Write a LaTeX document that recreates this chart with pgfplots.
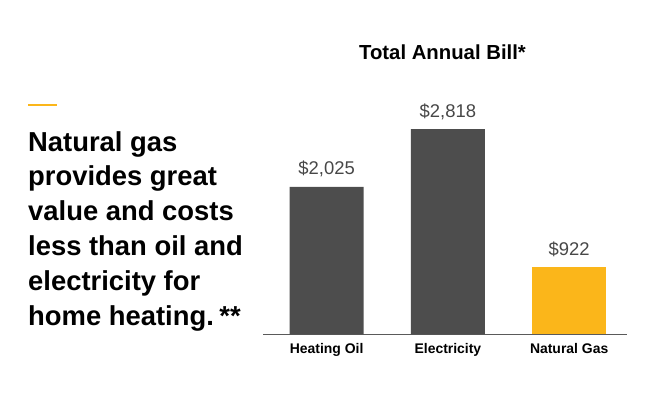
\documentclass[border=0pt]{standalone}
\usepackage{fontspec}
\setmainfont{Liberation Sans}
\usepackage{pgfplots}
\pgfplotsset{compat=1.18}

\definecolor{barGray}{HTML}{4D4D4D}
\definecolor{gasYellow}{HTML}{FBB61A}
\definecolor{labelGray}{HTML}{474747}
\definecolor{axisGray}{HTML}{5A5A5A}

\begin{document}
\begin{tikzpicture}[x=1bp,y=1bp]
\path[use as bounding box] (0,0) rectangle (656,401);

% accent dash above the headline
\draw[gasYellow, line width=2.6bp] (28,296) -- (57,296);

% headline, one line per node
\foreach \t [count=\i from 0] in {Natural gas,provides great,value and costs,less than oil and,electricity for,home heating.\hspace{0.2em}**}
  \node[anchor=base west, inner sep=0,
        font=\fontsize{27.5}{30}\selectfont\bfseries] at (28,250-34.8*\i) {\t};

% chart title
\node[anchor=base, inner sep=0, font=\fontsize{20.4}{22}\selectfont\bfseries]
  at (442.5,342) {Total Annual Bill*};

\begin{axis}[
  at={(217,91.3)}, anchor=south west,
  scale only axis, width=364bp, height=218.7bp,
  xmin=-0.524, xmax=2.478, ymin=0, ymax=3000,
  axis x line=bottom, axis y line=none,
  x axis line style={-, axisGray, line width=0.9bp},
  xtick={0,1,2},
  xticklabels={Heating Oil,Electricity,Natural Gas},
  major tick length=0pt,
  xticklabel style={font=\fontsize{14}{16}\selectfont\bfseries, text=black,
                    anchor=base, yshift=-19bp, inner sep=0pt},
  ytick=\empty,
  ybar, bar width=74bp, bar shift=0pt,
  clip=false,
  nodes near coords={\$\pgfmathprintnumber[assume math mode=true, fixed, 1000 sep={,}]{\pgfplotspointmeta}},
  nodes near coords style={anchor=base, yshift=12bp, inner sep=0pt,
                           font=\fontsize{18.5}{20}\selectfont, text=labelGray},
]
\addplot[fill=barGray, draw=none] coordinates {(0,2025) (1,2818)};
\addplot[fill=gasYellow, draw=none] coordinates {(2,922)};
\end{axis}
\end{tikzpicture}
\end{document}
